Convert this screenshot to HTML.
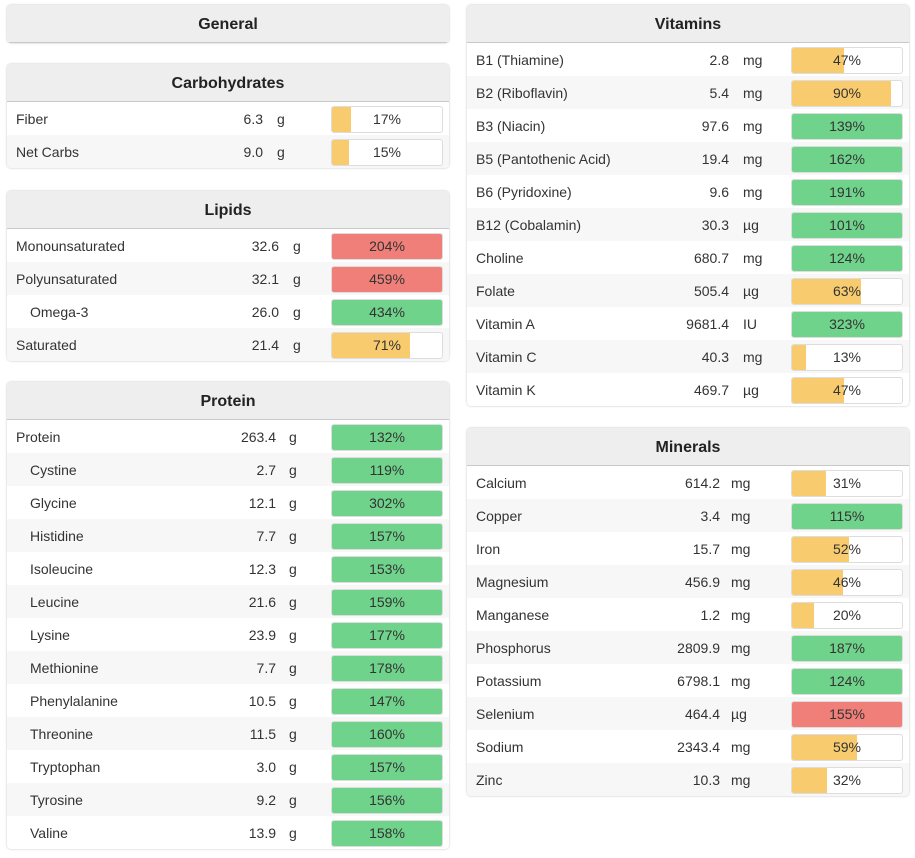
<!DOCTYPE html>
<html><head><meta charset="utf-8"><style>
body{margin:0;width:915px;height:858px;background:#fff;font-family:"Liberation Sans",sans-serif;color:#333;position:relative;overflow:hidden}
.panel{position:absolute;width:442px;border-radius:4px;box-shadow:0 0 2px rgba(0,0,0,.25);background:#fff;overflow:hidden}
.hdr{height:37px;line-height:39px;text-align:center;font-weight:bold;font-size:16px;background:#eee;border-bottom:1px solid #c8c8c8;color:#222}
.row{position:relative;height:33px;font-size:14px}
.row:nth-child(even){background:#f7f7f7}
.nm{position:absolute;left:9px;top:9px}
.vl{position:absolute;top:9px;text-align:right;width:80px}
.un{position:absolute;top:9px}
.bar{position:absolute;left:324px;top:4px;width:110px;height:25px;border:1px solid #ddd;border-radius:3px;background:#fff;overflow:hidden}
.fill{position:absolute;left:0;top:0;bottom:0}
.pct{position:absolute;left:0;right:0;top:4px;text-align:center;font-size:14px;color:#333}
</style></head><body>
<div class="panel" style="left:7px;top:5px"><div class="hdr">General</div></div>
<script>
const carbNames=["Fiber","Net Carbs"],carbVals=["6.3","9.0"],carbUnits=["g","g"],carbPct=[17,15];
const lipidNames=["Monounsaturated","Polyunsaturated","Omega-3","Saturated"],lipidVals=["32.6","32.1","26.0","21.4"],lipidUnits=["g","g","g","g"],lipidPct=[204,459,434,71];
const protNames=["Protein","Cystine","Glycine","Histidine","Isoleucine","Leucine","Lysine","Methionine","Phenylalanine","Threonine","Tryptophan","Tyrosine","Valine"],protVals=["263.4","2.7","12.1","7.7","12.3","21.6","23.9","7.7","10.5","11.5","3.0","9.2","13.9"],protPct=[132,119,302,157,153,159,177,178,147,160,157,156,158];
const vitNames=["B1 (Thiamine)","B2 (Riboflavin)","B3 (Niacin)","B5 (Pantothenic Acid)","B6 (Pyridoxine)","B12 (Cobalamin)","Choline","Folate","Vitamin A","Vitamin C","Vitamin K"],vitVals=["2.8","5.4","97.6","19.4","9.6","30.3","680.7","505.4","9681.4","40.3","469.7"],vitUnits=["mg","mg","mg","mg","mg","µg","mg","µg","IU","mg","µg"],vitPct=[47,90,139,162,191,101,124,63,323,13,47];
const minNames=["Calcium","Copper","Iron","Magnesium","Manganese","Phosphorus","Potassium","Selenium","Sodium","Zinc"],minVals=["614.2","3.4","15.7","456.9","1.2","2809.9","6798.1","464.4","2343.4","10.3"],minUnits=["mg","mg","mg","mg","mg","mg","mg","µg","mg","mg"],minPct=[31,115,52,46,20,187,124,155,59,32];
function color(p,over){if(p<100)return"#f8cb6e";return over?"#ef7f78":"#6fd38b";}
function panel(title,left,top,names,vals,units,pcts,valR,unitX,indent,over){
  const p=document.createElement('div');p.className='panel';p.style.left=left+'px';p.style.top=top+'px';
  
  
  const h=document.createElement('div');h.className='hdr';h.textContent=title;
  
  
  p.appendChild(h);
  const body=document.createElement('div');p.appendChild(body);
  names.forEach((n,i)=>{
    const r=document.createElement('div');r.className='row';
    
    
    const pc=pcts[i];const ind=indent(i);
    r.innerHTML='<span class="nm" style="left:'+(9+ind)+'px">'+n+'</span><span class="vl" style="left:'+(valR-80)+'px">'+vals[i]+'</span><span class="un" style="left:'+unitX+'px">'+units[i]+'</span><div class="bar"><div class="fill" style="width:'+Math.min(pc,100)+'%;background:'+color(pc,over(i))+'"></div><div class="pct">'+pc+'%</div></div>';
    body.appendChild(r);
  });
  document.body.appendChild(p);
}
panel("Carbohydrates",7,64,carbNames,carbVals,carbUnits,carbPct,256,270,()=>0,()=>false);
panel("Lipids",7,191,lipidNames,lipidVals,lipidUnits,lipidPct,272,286,i=>i==2?14:0,i=>i<2);
panel("Protein",7,382,protNames,protVals,protNames.map(()=>"g"),protPct,269,282,i=>i>0?14:0,()=>false);
panel("Vitamins",467,5,vitNames,vitVals,vitUnits,vitPct,262,276,()=>0,()=>false);
panel("Minerals",467,428,minNames,minVals,minUnits,minPct,253,264,()=>0,i=>i==7);
</script>
</body></html>
